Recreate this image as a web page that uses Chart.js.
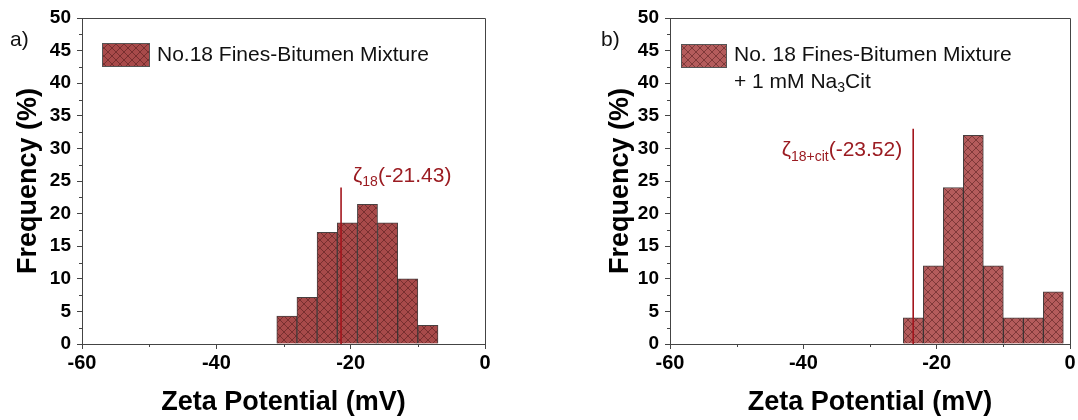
<!DOCTYPE html>
<html>
<head>
<meta charset="utf-8">
<script src="https://cdn.jsdelivr.net/npm/chart.js@4"></script>
<style>
  html, body { margin: 0; padding: 0; background: #fff; overflow: hidden; width: 1078px; height: 420px; }
  #pa { position: absolute; left: 0; top: 0; }
  #pb { position: absolute; left: 540px; top: 0; }
</style>
</head>
<body>
<canvas id="pa" width="540" height="420"></canvas>
<canvas id="pb" width="560" height="420"></canvas>
<script>
// histogram bins (centres, mV) and frequencies (%)
const binCentresA = [-29.5, -26.5, -23.5, -20.5, -17.5, -14.5, -11.5, -8.5];
const freqA = [4.29, 7.14, 17.14, 18.57, 21.43, 18.57, 10.0, 2.86];
const binCentresB = [-23.5, -20.5, -17.5, -14.5, -11.5, -8.5, -5.5, -2.5];
const freqB = [4, 12, 24, 32, 12, 4, 4, 8];

// mean zeta potential markers
const meanA = -21.43;
const meanTopA = 24;
const meanB = -23.52;
const meanTopB = 33;

const xTickValues = [-60, -40, -20, 0];
const xMinorTicks = [-50, -30, -10];
const yTickValues = [0, 5, 10, 15, 20, 25, 30, 35, 40, 45, 50];
const yMinorTicks = [2.5, 7.5, 12.5, 17.5, 22.5, 27.5, 32.5, 37.5, 42.5, 47.5];

const legendA = [[{ t: 'No.18 Fines-Bitumen Mixture' }]];
const legendB = [
  [{ t: 'No. 18 Fines-Bitumen Mixture' }],
  [{ t: '+ 1 mM Na' }, { t: '3', sub: true }, { t: 'Cit' }]
];
const labelA = [{ t: 'ζ' }, { t: '18', sub: true }, { t: '(-21.43)' }];
const labelB = [{ t: 'ζ' }, { t: '18+cit', sub: true }, { t: '(-23.52)' }];

Chart.defaults.font.family = '"Liberation Sans", Arial, sans-serif';
Chart.defaults.color = '#000';

function hatch(fill) {
  const c = document.createElement('canvas');
  c.width = c.height = 8;
  const g = c.getContext('2d');
  g.fillStyle = fill;
  g.fillRect(0, 0, 8, 8);
  g.strokeStyle = 'rgba(60,15,15,0.45)';
  g.lineWidth = 1;
  g.beginPath();
  g.moveTo(0, 0); g.lineTo(8, 8);
  g.moveTo(8, 0); g.lineTo(0, 8);
  g.stroke();
  return g.createPattern(c, 'repeat');
}

// draws text pieces with subscripts
function richText(ctx, parts, x, y, size, align) {
  const subSize = Math.round(size * 0.65);
  let w = 0;
  parts.forEach(p => {
    ctx.font = (p.sub ? subSize : size) + 'px "Liberation Sans", Arial';
    w += ctx.measureText(p.t).width;
  });
  let cx = align === 'right' ? x - w : x;
  ctx.textBaseline = 'middle';
  ctx.textAlign = 'left';
  parts.forEach(p => {
    ctx.font = (p.sub ? subSize : size) + 'px "Liberation Sans", Arial';
    ctx.fillText(p.t, cx, p.sub ? y + size * 0.3 : y);
    cx += ctx.measureText(p.t).width;
  });
}

function makeChart(id, cfg) {
  const fill = hatch(cfg.fill);
  const decor = {
    id: 'decor',
    afterDatasetsDraw(chart) {
      const ctx = chart.ctx;
      const a = chart.chartArea;
      const xs = chart.scales.x, ys = chart.scales.y;
      ctx.save();
      ctx.strokeStyle = '#444';
      ctx.lineWidth = 1;
      ctx.beginPath();
      ctx.moveTo(a.left, a.top + 0.5);
      ctx.lineTo(a.right + 0.5, a.top + 0.5);
      ctx.lineTo(a.right + 0.5, a.bottom);
      xMinorTicks.forEach(v => {
        const px = Math.round(xs.getPixelForValue(v)) + 0.5;
        ctx.moveTo(px, a.bottom);
        ctx.lineTo(px, a.bottom + 3);
      });
      yMinorTicks.forEach(v => {
        const py = Math.round(ys.getPixelForValue(v)) + 0.5;
        ctx.moveTo(a.left - 3, py);
        ctx.lineTo(a.left, py);
      });
      ctx.stroke();
      ctx.restore();
    },
    afterDraw(chart) {
      const ctx = chart.ctx;
      const xs = chart.scales.x, ys = chart.scales.y;
      ctx.save();
      // panel letter
      ctx.fillStyle = '#111';
      ctx.font = '21px "Liberation Sans", Arial';
      ctx.textBaseline = 'middle';
      ctx.fillText(cfg.panel, cfg.panelX, 40);
      // legend
      const lg = cfg.legendBox;
      ctx.fillStyle = fill;
      ctx.fillRect(lg.x, lg.y, lg.w, lg.h);
      ctx.strokeStyle = '#555';
      ctx.lineWidth = 1;
      ctx.strokeRect(lg.x + 0.5, lg.y + 0.5, lg.w, lg.h);
      ctx.fillStyle = '#111';
      cfg.legend.forEach((line, i) => {
        richText(ctx, line, lg.x + lg.w + 8, 55 + i * 27, 21, 'left');
      });
      // mean label
      ctx.fillStyle = '#9b1c22';
      const lx = xs.getPixelForValue(cfg.mean) + cfg.labelDx;
      richText(ctx, cfg.label, lx, ys.getPixelForValue(cfg.labelY), 21, cfg.labelAlign);
      ctx.restore();
    }
  };

  return new Chart(document.getElementById(id), {
    type: 'bar',
    data: {
      datasets: [
        {
          type: 'line',
          data: [{ x: cfg.mean, y: 0 }, { x: cfg.mean, y: cfg.meanTop }],
          borderColor: '#a3151d',
          borderWidth: 1.6,
          pointRadius: 0,
          fill: false,
          order: 0
        },
        {
          data: cfg.centres.map((c, i) => ({ x: c, y: cfg.freq[i] })),
          backgroundColor: fill,
          borderColor: 'rgba(40,30,30,0.85)',
          borderWidth: 1,
          barPercentage: 1,
          categoryPercentage: 1,
          order: 1
        }
      ]
    },
    options: {
      responsive: false,
      animation: false,
      layout: { padding: { left: cfg.padLeft, right: cfg.padRight, top: 18, bottom: 1 } },
      plugins: { legend: { display: false }, tooltip: { enabled: false } },
      scales: {
        x: {
          type: 'linear',
          min: -60,
          max: 0,
          offset: false,
          afterBuildTicks: s => { s.ticks = xTickValues.map(v => ({ value: v })); },
          afterFit: s => { s.height = 75; },
          grid: { drawOnChartArea: false, offset: false, tickLength: 5, tickColor: '#444' },
          border: { color: '#444', width: 1 },
          ticks: { font: { size: 20, weight: 'bold' }, padding: 2, color: '#000' },
          title: { display: true, text: 'Zeta Potential (mV)', font: { size: 27, weight: 'bold' }, padding: 0, color: '#000' }
        },
        y: {
          min: 0,
          max: 50,
          afterBuildTicks: s => { s.ticks = yTickValues.map(v => ({ value: v })); },
          afterFit: s => { s.width = cfg.yWidth; },
          grid: { drawOnChartArea: false, tickLength: 5, tickColor: '#444' },
          border: { color: '#444', width: 1 },
          ticks: { font: { size: 19, weight: 'bold' }, padding: 6, color: '#000' },
          title: { display: true, text: 'Frequency (%)', font: { size: 27, weight: 'bold' }, padding: 0, color: '#000' }
        }
      }
    },
    plugins: [decor]
  });
}

makeChart('pa', {
  centres: binCentresA, freq: freqA, fill: '#a84a4a',
  mean: meanA, meanTop: meanTopA,
  padLeft: 12, yWidth: 70, padRight: 55,
  panel: 'a)', panelX: 10,
  legend: legendA, legendBox: { x: 102, y: 43, w: 47, h: 23 },
  label: labelA, labelDx: 12, labelY: 25.8, labelAlign: 'left'
});

makeChart('pb', {
  centres: binCentresB, freq: freqB, fill: '#b45c5c',
  mean: meanB, meanTop: meanTopB,
  padLeft: 64, yWidth: 66, padRight: 30,
  panel: 'b)', panelX: 61,
  legend: legendB, legendBox: { x: 141, y: 44, w: 45, h: 23 },
  label: labelB, labelDx: -11, labelY: 29.7, labelAlign: 'right'
});
</script>
</body>
</html>
